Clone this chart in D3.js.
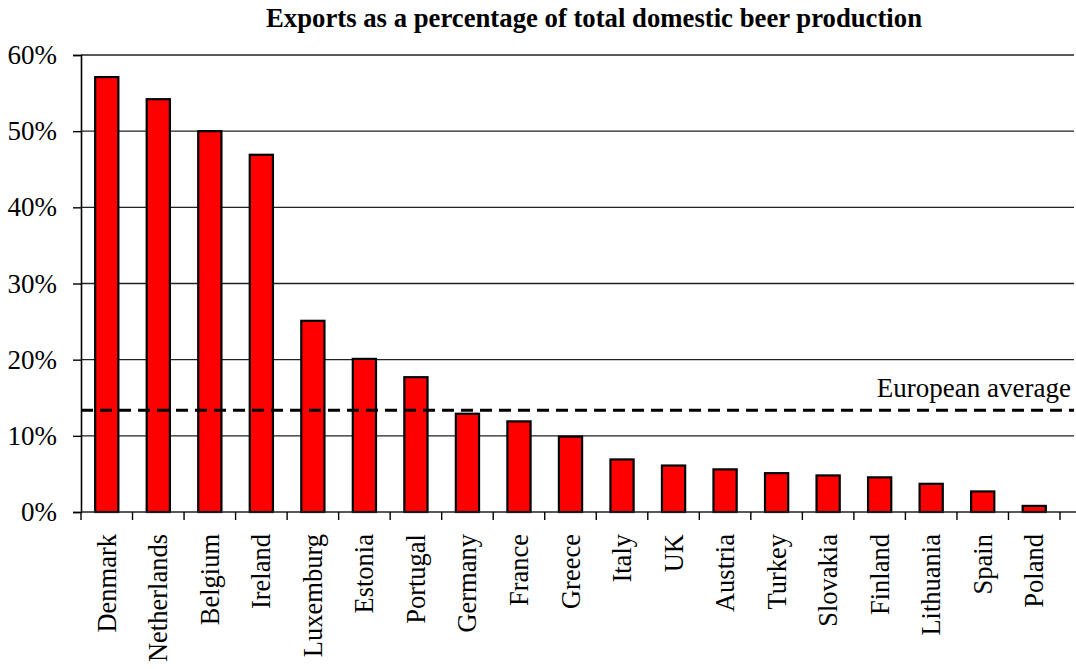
<!DOCTYPE html>
<html>
<head>
<meta charset="utf-8">
<script src="https://cdn.jsdelivr.net/npm/d3@7"></script>
<style>
  html, body { margin: 0; padding: 0; background: #fff; }
  svg { display: block; }
  text { font-family: "Liberation Serif", "Times New Roman", serif; fill: #000; }
</style>
</head>
<body>
<svg id="chart" width="1076" height="669"></svg>
<script>
const categories = ["Denmark","Netherlands","Belgium","Ireland","Luxemburg","Estonia","Portugal","Germany","France","Greece","Italy","UK","Austria","Turkey","Slovakia","Finland","Lithuania","Spain","Poland"];
const exportShare = [57.1, 54.2, 50.0, 46.9, 25.1, 20.1, 17.7, 12.9, 11.9, 9.9, 6.9, 6.1, 5.6, 5.1, 4.8, 4.55, 3.7, 2.7, 0.8];
const yTicks = [0, 10, 20, 30, 40, 50, 60];
const europeanAverage = 13.35;
const titleText = "Exports as a percentage of total domestic beer production";
const averageLabel = "European average";

const svg = d3.select("#chart");
const plotLeft = 81, plotRight = 1060, plotTop = 55, plotBottom = 512, gridRight = 1074;

const x = d3.scaleBand().domain(categories).range([plotLeft, plotRight])
  .paddingInner(0.55).paddingOuter(0.275);
const y = d3.scaleLinear().domain([0, 60]).range([plotBottom, plotTop]);

// Title
svg.append("text")
  .attr("x", 594).attr("y", 27)
  .attr("text-anchor", "middle")
  .attr("font-size", 27).attr("font-weight", "bold")
  .attr("textLength", 656).attr("lengthAdjust", "spacingAndGlyphs")
  .text(titleText);

// Gridlines
svg.append("g").selectAll("line")
  .data(yTicks.filter(d => d > 0))
  .join("line")
  .attr("x1", plotLeft).attr("x2", gridRight)
  .attr("y1", d => y(d)).attr("y2", d => y(d))
  .attr("stroke", "#222").attr("stroke-width", 1.4);

// Y axis
const yAxis = svg.append("g")
  .attr("transform", `translate(${plotLeft},0)`)
  .call(d3.axisLeft(y).tickValues(yTicks).tickSize(8).tickPadding(16).tickFormat(d => d + "%"));
yAxis.select(".domain").attr("stroke", "#000").attr("stroke-width", 1.6);
yAxis.selectAll(".tick line").attr("stroke", "#000").attr("stroke-width", 1.4);
yAxis.selectAll(".tick text").attr("font-size", 27)
  .attr("font-family", "'Liberation Serif', 'Times New Roman', serif").attr("fill", "#000");

// Bars
svg.append("g").selectAll("rect")
  .data(categories)
  .join("rect")
  .attr("x", d => x(d))
  .attr("width", x.bandwidth())
  .attr("y", (d, i) => y(exportShare[i]))
  .attr("height", (d, i) => y(0) - y(exportShare[i]))
  .attr("fill", "#ff0000")
  .attr("stroke", "#000").attr("stroke-width", 2.2);

// X axis baseline
svg.append("line")
  .attr("x1", plotLeft).attr("x2", 1076)
  .attr("y1", y(0)).attr("y2", y(0))
  .attr("stroke", "#222").attr("stroke-width", 1.6);

// X axis ticks at band boundaries
const boundaries = categories.map(d => x(d) - x.step() * x.paddingOuter()).concat([plotRight]);
svg.append("g").selectAll("line")
  .data(boundaries)
  .join("line")
  .attr("x1", d => d).attr("x2", d => d)
  .attr("y1", y(0)).attr("y2", y(0) + 8)
  .attr("stroke", "#000").attr("stroke-width", 1.4);

// Category labels
svg.append("g").selectAll("text")
  .data(categories)
  .join("text")
  .attr("transform", d => `translate(${x(d) + x.bandwidth() / 2},534) rotate(-90)`)
  .attr("dy", "0.34em")
  .attr("text-anchor", "end")
  .attr("font-size", 26.5)
  .text(d => d);

// European average dashed line
svg.append("line")
  .attr("x1", plotLeft).attr("x2", gridRight)
  .attr("y1", y(europeanAverage)).attr("y2", y(europeanAverage))
  .attr("stroke", "#000").attr("stroke-width", 3)
  .attr("stroke-dasharray", "12,7");

svg.append("text")
  .attr("x", 1071).attr("y", 397)
  .attr("text-anchor", "end")
  .attr("font-size", 27)
  .text(averageLabel);
</script>
</body>
</html>
